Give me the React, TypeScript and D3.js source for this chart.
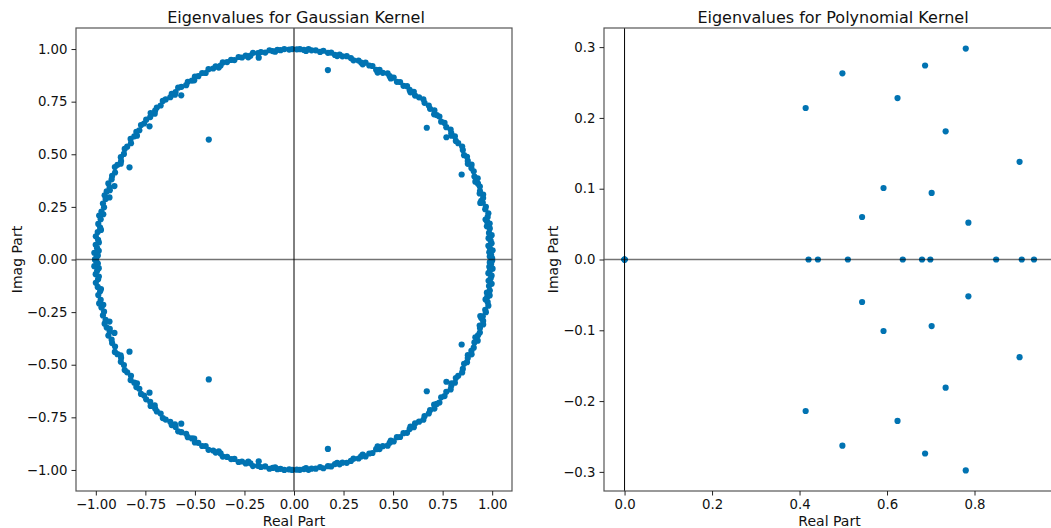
import React, { useEffect, useRef } from 'react';
import * as d3 from 'd3';

// Gaussian kernel: eigenvalues on the ring, upper half as [argument in degrees, modulus]
const gaussRing: [number, number][] = [
  [0.3, 1.0], [0.8, 0.988], [1.2, 0.995], [2.0, 0.986], [2.5, 1.003], [3.1, 0.99], [3.8, 0.983], [4.4, 1.0],
  [5.2, 0.996], [5.9, 0.987], [6.6, 1.004], [7.3, 0.992], [8.5, 0.999], [9.2, 0.986], [9.8, 1.002], [10.4, 0.991],
  [11.1, 0.985], [11.7, 0.998], [12.6, 1.005], [13.9, 0.994], [14.5, 1.0], [15.8, 0.99], [16.4, 0.985], [17.0, 0.998],
  [17.9, 1.003], [18.5, 0.988], [19.1, 0.993], [20.3, 1.0], [21.2, 0.996], [22.0, 0.987], [22.6, 1.004], [23.4, 0.992],
  [24.8, 0.999], [25.9, 0.995], [26.7, 1.003], [27.4, 0.988], [28.1, 0.994], [29.2, 1.0], [30.0, 0.991], [31.4, 0.998],
  [32.3, 1.004], [33.7, 0.996], [34.6, 0.992], [35.8, 1.001], [36.5, 0.989], [37.1, 0.995], [38.0, 1.003], [39.3, 0.993],
  [40.5, 0.999], [41.4, 0.99], [42.8, 1.0], [43.6, 0.995], [44.3, 0.988], [45.0, 1.002], [46.2, 0.992], [47.1, 0.999],
  [48.5, 0.994], [49.4, 1.003], [50.7, 0.996], [51.9, 0.99], [52.8, 1.0], [53.5, 0.988], [54.1, 0.995], [55.3, 1.002],
  [56.2, 0.993], [57.6, 0.999], [58.4, 0.991], [59.8, 1.0], [60.4, 0.989], [61.0, 0.996], [61.9, 1.003], [63.2, 0.994],
  [64.4, 0.999], [65.3, 0.992], [66.7, 1.001], [67.6, 0.997], [68.9, 1.003], [69.5, 0.99], [70.1, 0.995], [71.0, 1.0],
  [72.4, 0.993], [73.3, 0.999], [74.6, 1.002], [75.8, 0.996], [76.7, 1.0], [77.3, 0.991], [78.0, 0.994], [79.2, 1.001],
  [80.1, 0.997], [81.5, 1.003], [82.4, 0.995], [83.7, 1.0], [84.9, 0.998], [85.8, 1.002], [86.5, 0.993], [87.1, 0.997],
  [88.3, 1.0], [89.2, 0.999], [90.5, 1.0], [91.4, 0.998], [92.8, 1.001], [93.9, 0.997], [94.8, 1.0], [95.5, 0.992],
  [96.2, 0.996], [97.1, 1.002], [98.4, 0.994], [99.6, 1.0], [100.5, 0.997], [101.9, 1.003], [102.8, 0.993], [103.5, 0.988],
  [104.1, 0.999], [105.3, 0.995], [106.2, 1.002], [107.6, 0.994], [108.5, 1.0], [109.8, 0.997], [111.0, 1.003], [111.9, 0.993],
  [112.6, 0.988], [113.3, 0.999], [114.2, 0.995], [115.5, 1.002], [116.7, 0.992], [117.6, 1.0], [119.0, 0.996], [119.9, 1.003],
  [120.6, 0.989], [121.2, 0.994], [122.4, 1.0], [123.3, 0.991], [124.7, 0.998], [125.6, 1.004], [126.9, 0.995], [127.5, 0.987],
  [128.1, 1.0], [129.0, 0.992], [130.4, 0.999], [131.3, 1.003], [132.6, 0.994], [133.8, 1.0], [134.7, 0.996], [135.4, 0.987],
  [136.1, 1.004], [137.0, 0.992], [138.3, 0.999], [139.5, 0.995], [140.4, 1.002], [141.8, 0.993], [142.7, 1.0], [143.4, 0.987],
  [144.0, 0.996], [145.2, 1.004], [146.1, 0.991], [147.5, 0.998], [148.4, 1.003], [149.7, 0.994], [150.9, 1.0], [151.8, 0.99],
  [152.5, 0.986], [153.2, 0.998], [154.1, 1.005], [155.4, 0.993], [156.6, 1.0], [157.5, 0.996], [158.9, 1.004], [159.8, 0.991],
  [160.5, 0.986], [161.1, 0.999], [162.3, 1.003], [163.2, 0.993], [164.6, 1.0], [165.5, 0.99], [166.8, 0.998], [167.4, 0.986],
  [168.0, 1.005], [168.9, 0.994], [170.3, 1.002], [171.2, 0.99], [171.8, 0.984], [172.5, 0.999], [173.7, 1.006], [174.6, 0.993],
  [175.3, 0.988], [176.0, 1.003], [176.9, 0.995], [177.6, 0.986], [178.2, 1.008], [178.9, 0.99], [179.4, 0.997], [180.0, 1.004]
];

// Gaussian kernel: the few eigenvalues inside the ring (upper half)
const gaussInnerRe = [-0.178, 0.171, -0.569, -0.729, -0.43, -0.83, -0.906, -0.931, 0.67, 0.769, 0.846, 0.94, 0.422];
const gaussInnerIm = [0.959, 0.9, 0.78, 0.633, 0.57, 0.438, 0.349, 0.295, 0.626, 0.581, 0.404, 0.269, 0.888];

// Polynomial kernel eigenvalues (real ones and upper half of complex pairs)
const polyRe = [0, 0, 0, 0, 0.4206, 0.442, 0.5105, 0.636, 0.68, 0.699, 0.8495, 0.908, 0.936,
  0.414, 0.498, 0.624, 0.687, 0.78, 0.734, 0.903, 0.592, 0.702, 0.543, 0.786];
const polyIm = [0, 0, 0, 0, 0, 0, 0, 0, 0, 0, 0, 0, 0,
  0.214, 0.263, 0.228, 0.274, 0.298, 0.181, 0.138, 0.101, 0.094, 0.06, 0.052];

const gaussTicks = [-1, -0.75, -0.5, -0.25, 0, 0.25, 0.5, 0.75, 1];
const polyXTicks = [0, 0.2, 0.4, 0.6, 0.8];
const polyYTicks = [-0.3, -0.2, -0.1, 0, 0.1, 0.2, 0.3];

const COLOR = '#0173b2';
const FONT = 'DejaVu Sans, sans-serif';

type Pt = { re: number; im: number };

function withConjugates(pts: Pt[]): Pt[] {
  return pts.concat(pts.filter(p => p.im !== 0).map(p => ({ re: p.re, im: -p.im })));
}

function drawPanel(svg: any, opts: any) {
  const { left, right, top, bottom, xDomain, yDomain, xTicks, yTicks, fmt, title, titleX, ylabelX, points } = opts;
  const x = d3.scaleLinear().domain(xDomain).range([left, right]);
  const y = d3.scaleLinear().domain(yDomain).range([bottom, top]);
  const g = svg.append('g');

  g.append('defs').append('clipPath').attr('id', 'clip-' + left)
    .append('rect').attr('x', left).attr('y', top).attr('width', right - left).attr('height', bottom - top);

  const plot = g.append('g').attr('clip-path', `url(#clip-${left})`);
  plot.selectAll('circle')
    .data(points)
    .join('circle')
    .attr('cx', (d: Pt) => x(d.re))
    .attr('cy', (d: Pt) => y(d.im))
    .attr('r', 3.1)
    .attr('fill', COLOR);

  // zero lines
  plot.append('line')
    .attr('x1', left).attr('x2', right).attr('y1', y(0)).attr('y2', y(0))
    .attr('stroke', '#000').attr('stroke-opacity', 0.55).attr('stroke-width', 1.5);
  plot.append('line')
    .attr('x1', x(0)).attr('x2', x(0)).attr('y1', top).attr('y2', bottom)
    .attr('stroke', '#000').attr('stroke-width', 1);

  // spines
  g.append('rect')
    .attr('x', left).attr('y', top).attr('width', right - left).attr('height', bottom - top)
    .attr('fill', 'none').attr('stroke', '#555').attr('stroke-width', 1.2);

  const xAxis = g.append('g').attr('transform', `translate(0,${bottom})`)
    .call(d3.axisBottom(x).tickValues(xTicks).tickFormat(fmt).tickSize(4.5).tickPadding(4));
  const yAxis = g.append('g').attr('transform', `translate(${left},0)`)
    .call(d3.axisLeft(y).tickValues(yTicks).tickFormat(fmt).tickSize(4.5).tickPadding(4));
  [xAxis, yAxis].forEach(a => {
    a.select('.domain').remove();
    a.selectAll('line').attr('stroke', '#222').attr('stroke-width', 1);
    a.selectAll('text').attr('font-family', FONT).attr('font-size', 13.3).attr('fill', '#111');
  });

  g.append('text')
    .attr('x', titleX)
    .attr('y', top - 5)
    .attr('text-anchor', 'middle')
    .attr('font-family', FONT).attr('font-size', 16).attr('fill', '#111')
    .text(title);
  g.append('text')
    .attr('x', (left + right) / 2 - (right > 1051 ? 0 : 0)).attr('y', bottom + 35)
    .attr('text-anchor', 'middle')
    .attr('font-family', FONT).attr('font-size', 14).attr('fill', '#111')
    .text('Real Part');
  g.append('text')
    .attr('transform', `translate(${ylabelX},${(top + bottom) / 2}) rotate(-90)`)
    .attr('text-anchor', 'middle')
    .attr('font-family', FONT).attr('font-size', 14).attr('fill', '#111')
    .text('Imag Part');
}

export default function App() {
  const ref = useRef<SVGSVGElement>(null);

  useEffect(() => {
    const svg = d3.select(ref.current);
    svg.selectAll('*').remove();

    const ringUpper: Pt[] = gaussRing.map(([deg, mod]) => ({
      re: mod * Math.cos((deg * Math.PI) / 180),
      im: mod * Math.sin((deg * Math.PI) / 180)
    }));
    const innerUpper: Pt[] = gaussInnerRe.map((re, i) => ({ re, im: gaussInnerIm[i] }));
    const gaussPts = withConjugates(ringUpper.concat(innerUpper));
    const polyPts = withConjugates(polyRe.map((re, i) => ({ re, im: polyIm[i] })));

    drawPanel(svg, {
      left: 76, right: 512, top: 28, bottom: 491,
      xDomain: [-1.1, 1.1], yDomain: [-1.1, 1.1],
      xTicks: gaussTicks, yTicks: gaussTicks, fmt: d3.format('.2f'),
      title: 'Eigenvalues for Gaussian Kernel', titleX: 296, ylabelX: 22, points: gaussPts
    });
    drawPanel(svg, {
      left: 604, right: 1055, top: 28, bottom: 491,
      xDomain: [-0.047, 0.984], yDomain: [-0.327, 0.327],
      xTicks: polyXTicks, yTicks: polyYTicks, fmt: d3.format('.1f'),
      title: 'Eigenvalues for Polynomial Kernel', titleX: 833, ylabelX: 558, points: polyPts
    });
  }, []);

  return (
    <svg ref={ref} width={1051} height={528}
      style={{ position: 'fixed', left: 0, top: 0, background: '#fff', display: 'block' }} />
  );
}
